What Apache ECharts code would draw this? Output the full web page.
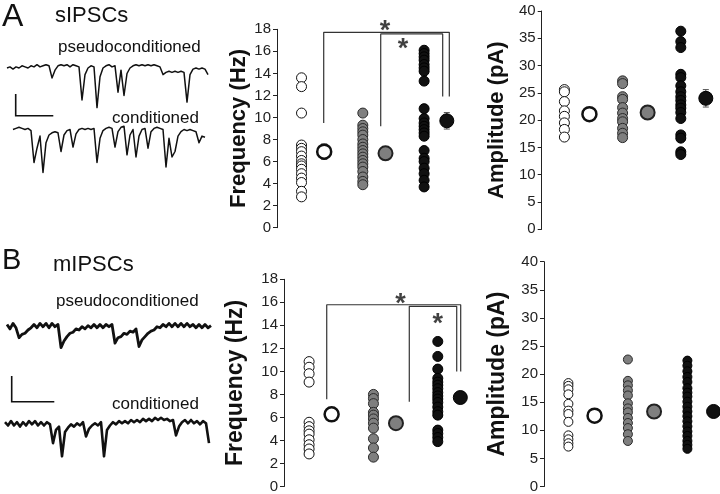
<!DOCTYPE html>
<html><head><meta charset="utf-8">
<script src="https://cdn.jsdelivr.net/npm/echarts@6/dist/echarts.min.js"></script>
<style>html,body{margin:0;padding:0;background:#fff}#c{width:720px;height:494px}</style>
</head><body><div id="c"></div>
<script>
// ---------- Traces (pA relative to baseline, uniform sampling) ----------
const sPseudoTrace = [0,1,-1,1,0,2,1,0,2,1,3,1,2,3,2, -9,-2,2,3,2,3,1,3,2,1, -29,-6,0,2,1, -36,-8,0,2,3,1,2, -22,-2,-25,-5,0,2,3,2,3,2,3,2,3,2,1, -6,-4,-3,-4,-3,-4,-3,-4, -31,-6,-1,0,-1,0,-1,-6];
const sCondTrace = [2,3,4,3,2,3,1, -28,-15,-4,-37,-10,-3,-1,0,-1, -18,-3,1,2, -14,-2,2,3,2,3,2,3, -28,-6,1,3,4,3, -14,0,4,5, -21,-3,2, -23,-4,2,3, -15,0,3,4,3,2, -32,-6,-23,-18,-4,0,2,1,2,1,0, -10,-4,-5];
const mPseudoTrace = [2,-2,3,-1, -10,-7,-6,-3,-1,2,-1,3,0,3,-1,3,0,2, -19,-13,-9,-6,-5,-2,-3,0,-2,1,-1,2,-1,2,-1,2,0,2, -15,-10,-9,-6,-7,-4,-5,-2, -18,-12,-9,-6,-4,-3,0,-1,2,0,3,0,3,0,3,0,3,0,2,-1,2,-1,2,-1,1];
const mCondTrace = [1,-2,2,-2,1,-3,1,-2,2,-1,2,-2,1,-2,1,-1, -18,-6,-3, -30,-8,-4,-1,-3,0,-2,1, -12,-5,-2,0,-2,1, -30,-6,-2,1,-1,2,0,2,0,3,1,3,1,4,2,4,2,5,3,5,3,4,2,3, -11,-3,1,3,0,3,0,2,-1,2,0, -18];

// ---------- sIPSC frequency (Hz) ----------
const sFreqOpen  = [13.6,12.8,10.4,7.5,7.2,6.9,6.5,6.1,5.8,5.6,5.3,4.9,4.5,4.1,3.3,2.8];
const sFreqGray  = [10.4,9.3,9.0,8.7,8.4,8.0,7.6,7.3,7.0,6.7,6.4,6.1,5.8,5.5,5.1,4.6,4.2,3.9];
const sFreqBlack = [16.1,15.8,15.5,15.2,14.8,14.5,14.2,13.3,10.8,9.9,9.5,9.2,8.9,8.6,8.3,7.0,6.3,6.0,5.4,4.9,4.3,3.7];
const sFreqMean  = [6.9,6.75,9.7];
const sFreqSem   = [0.7,0.3,0.75];
// ---------- sIPSC amplitude (pA) ----------
const sAmpOpen  = [25.6,25.2,23.4,21.7,20.7,19.5,18.3,16.9];
const sAmpGray  = [27.2,26.7,24.3,23.8,22.3,21.3,20.3,19.7,18.5,17.6,16.8];
const sAmpBlack = [36.3,34.4,33.3,28.4,27.8,26.3,25.2,24.3,23.6,22.8,22.2,21.4,20.3,17.3,16.7,14.2,13.7];
const sAmpMean  = [21.1,21.4,24.0];
const sAmpSem   = [0.6,0.6,1.6];
// ---------- mIPSC frequency (Hz) ----------
const mFreqOpen  = [10.85,10.36,9.8,9.07,5.58,5.2,4.84,4.55,4.06,3.63,3.26,2.83];
const mFreqGray  = [8.0,7.64,7.2,6.44,6.2,5.87,5.5,5.07,4.15,3.35,2.55];
const mFreqBlack = [12.6,11.3,10.2,9.4,9.07,8.8,8.5,8.16,7.87,7.6,7.3,6.9,6.5,6.2,4.9,4.6,4.26,3.9];
const mFreqMean  = [6.27,5.5,7.73];
const mFreqSem   = [0.5,0.5,0.5];
// ---------- mIPSC amplitude (pA) ----------
const mAmpOpen  = [18.4,17.9,17.3,16.4,14.7,13.5,12.9,11.5,9.1,8.4,7.7,7.1];
const mAmpGray  = [22.6,18.8,18.0,17.1,16.2,14.8,13.9,13.2,12.2,11.3,10.4,9.3,8.1];
const mAmpBlack = [22.4,21.5,20.5,19.5,18.6,17.5,16.7,16.0,15.1,14.2,13.35,12.5,11.6,10.7,9.8,9.0,8.1,7.4,6.7];
const mAmpMean  = [12.6,13.35,13.35];
const mAmpSem   = [0.8,0.8,0.8];

// ---------- significance brackets: [x, y] in axis units ----------
const sBracketOuter = [[1.362,9.5],[1.362,17.73],[3.411,17.73],[3.411,11.9]];
const sBracketInner = [[2.292,9.2],[2.292,17.58],[3.303,17.58],[3.303,11.9]];
const sStars = [[2.36,18.39],[2.655,16.76]];
const mBracketOuter = [[1.274,7.58],[1.274,15.79],[3.356,15.79],[3.356,10.0]];
const mBracketInner = [[2.557,7.36],[2.557,15.65],[3.294,15.65],[3.294,10.0]];
const mStars = [[2.42,16.42],[3.0,14.65]];

const FONT = '"Liberation Sans", Arial, Helvetica, sans-serif';
const grids = [], xAxes = [], yAxes = [], series = [];

function addTrace(values, left, top, width, lw) {
  const i = grids.length;
  grids.push({left: left, top: top, width: width, height: 55});
  xAxes.push({type: 'category', gridIndex: i, data: values.map((_, k) => k), boundaryGap: false, show: false});
  yAxes.push({type: 'value', gridIndex: i, min: -40, max: 10, show: false});
  series.push({type: 'line', xAxisIndex: i, yAxisIndex: i, data: values, symbol: 'none',
    lineStyle: {color: '#111', width: lw, join: 'round'}, silent: true, animation: false});
}

const ptStyles = [
  {color: '#fff', borderColor: '#111', borderWidth: 1, opacity: 1},
  {color: '#7f7f7f', borderColor: '#2a2a2a', borderWidth: 1, opacity: 1},
  {color: '#111', borderColor: '#000', borderWidth: 1, opacity: 1}];
const meanStyles = [
  {color: '#fff', borderColor: '#111', borderWidth: 2.5, opacity: 1},
  {color: '#7f7f7f', borderColor: '#222', borderWidth: 2, opacity: 1},
  {color: '#111', borderColor: '#000', borderWidth: 1, opacity: 1}];

function addPanel(p) {
  const i = grids.length;
  const xmax = p.xmin + p.width / p.spacing;
  grids.push({left: p.left, top: p.top, width: p.width, height: p.height});
  xAxes.push({type: 'value', gridIndex: i, min: p.xmin, max: xmax, show: false});
  yAxes.push({type: 'value', gridIndex: i, min: 0, max: p.ymax, interval: p.interval,
    name: p.name, nameLocation: 'middle', nameGap: p.nameGap, nameRotate: 90,
    nameTextStyle: {fontFamily: FONT, fontWeight: 'bold', fontSize: p.nameSize, color: '#111'},
    axisLine: {show: true, lineStyle: {color: '#222', width: 1}},
    axisTick: {show: true, length: 4, lineStyle: {color: '#222'}},
    axisLabel: {fontFamily: FONT, fontSize: 15, color: '#222', margin: 6},
    splitLine: {show: false}});
  series.push({type: 'custom', xAxisIndex: i, yAxisIndex: i, z: 2, silent: true, animation: false,
    encode: {x: 0, y: [1, 2]},
    data: p.means.map((m, g) => [g + 1 + p.off, m - p.sem[g], m + p.sem[g]]),
    renderItem: function (params, api) {
      const x = api.value(0);
      const a = api.coord([x, api.value(1)]), b = api.coord([x, api.value(2)]);
      const w = 3, st = {stroke: '#555', lineWidth: 1};
      return {type: 'group', children: [
        {type: 'line', shape: {x1: a[0], y1: a[1], x2: b[0], y2: b[1]}, style: st},
        {type: 'line', shape: {x1: a[0] - w, y1: a[1], x2: a[0] + w, y2: a[1]}, style: st},
        {type: 'line', shape: {x1: b[0] - w, y1: b[1], x2: b[0] + w, y2: b[1]}, style: st}]};
    }});
  p.points.forEach((arr, g) => {
    series.push({type: 'scatter', xAxisIndex: i, yAxisIndex: i, z: 3, animation: false,
      data: arr.map(v => [g + 1, v]), symbolSize: p.size, itemStyle: ptStyles[g]});
  });
  series.push({type: 'scatter', xAxisIndex: i, yAxisIndex: i, z: 4, animation: false,
    data: p.means.map((m, g) => ({value: [g + 1 + p.off, m], itemStyle: meanStyles[g]})),
    symbolSize: p.meanSize});
  (p.brackets || []).forEach(br => {
    series.push({type: 'line', xAxisIndex: i, yAxisIndex: i, data: br, symbol: 'none', clip: false,
      z: 1, animation: false, silent: true, lineStyle: {color: '#333', width: 1.2}});
  });
  if (p.stars) {
    series.push({type: 'scatter', xAxisIndex: i, yAxisIndex: i, data: p.stars, clip: false,
      symbolSize: 1, itemStyle: {color: 'transparent'}, animation: false, silent: true,
      label: {show: true, position: 'inside', formatter: '*', fontFamily: FONT, fontSize: 27,
        fontWeight: 'bold', color: '#111', offset: [0, 7]}});
  }
}

// traces
addTrace(sPseudoTrace, 7, 57, 201, 1.5);
addTrace(sCondTrace, 13, 120.7, 192, 1.5);
addTrace(mPseudoTrace, 7, 315.7, 204, 2.8);
addTrace(mCondTrace, 5, 412.3, 204, 2.6);

// scatter panels
addPanel({left: 277, top: 29.3, height: 198.4, width: 193, xmin: 0.6, spacing: 61.3, off: 0.37,
  ymax: 18, interval: 2, name: 'Frequency (Hz)', nameGap: 24, nameSize: 22, size: 10, meanSize: 14,
  points: [sFreqOpen, sFreqGray, sFreqBlack], means: sFreqMean, sem: sFreqSem,
  brackets: [sBracketOuter, sBracketInner], stars: sStars});
addPanel({left: 541.7, top: 11, height: 218.3, width: 174, xmin: 0.61, spacing: 58.2, off: 0.43,
  ymax: 40, interval: 5, name: 'Amplitude (pA)', nameGap: 34, nameSize: 22, size: 10, meanSize: 14,
  points: [sAmpOpen, sAmpGray, sAmpBlack], means: sAmpMean, sem: sAmpSem});
addPanel({left: 284, top: 279.3, height: 209.7, width: 199, xmin: 0.61, spacing: 64.35, off: 0.35,
  ymax: 18, interval: 2, name: 'Frequency (Hz)', nameGap: 37, nameSize: 23, size: 10, meanSize: 14,
  points: [mFreqOpen, mFreqGray, mFreqBlack], means: mFreqMean, sem: mFreqSem,
  brackets: [mBracketOuter, mBracketInner], stars: mStars});
addPanel({left: 544, top: 261.7, height: 227.6, width: 175, xmin: 0.59, spacing: 59.5, off: 0.44,
  ymax: 40, interval: 5, name: 'Amplitude (pA)', nameGap: 35, nameSize: 23, size: 9, meanSize: 14,
  points: [mAmpOpen, mAmpGray, mAmpBlack], means: mAmpMean, sem: mAmpSem});

function txt(t, x, y, size, weight) {
  return {type: 'text', x: x, y: y, silent: true,
    style: {text: t, fontFamily: FONT, fontSize: size, fontWeight: weight || 'normal', fill: '#111',
      align: 'left', verticalAlign: 'middle'}};
}
const graphic = [
  txt('A', 2, 17, 32), txt('sIPSCs', 55, 16, 22),
  txt('pseudoconditioned', 58, 47, 17), txt('conditioned', 112, 118, 17),
  txt('B', 2, 261, 29), txt('mIPSCs', 53, 265, 22),
  txt('pseudoconditioned', 56, 301, 17), txt('conditioned', 112, 404, 17),
  {type: 'polyline', silent: true, shape: {points: [[15.7, 94], [15.7, 115.7], [53.3, 115.7]]},
    style: {stroke: '#111', lineWidth: 1.6, fill: null}},
  {type: 'polyline', silent: true, shape: {points: [[11.7, 376], [11.7, 401.7], [54.3, 401.7]]},
    style: {stroke: '#111', lineWidth: 1.6, fill: null}}
];

const chart = echarts.init(document.getElementById('c'), null, {renderer: 'canvas'});
chart.setOption({animation: false, backgroundColor: '#fff', grid: grids, xAxis: xAxes, yAxis: yAxes,
  series: series, graphic: graphic});
</script></body></html>
